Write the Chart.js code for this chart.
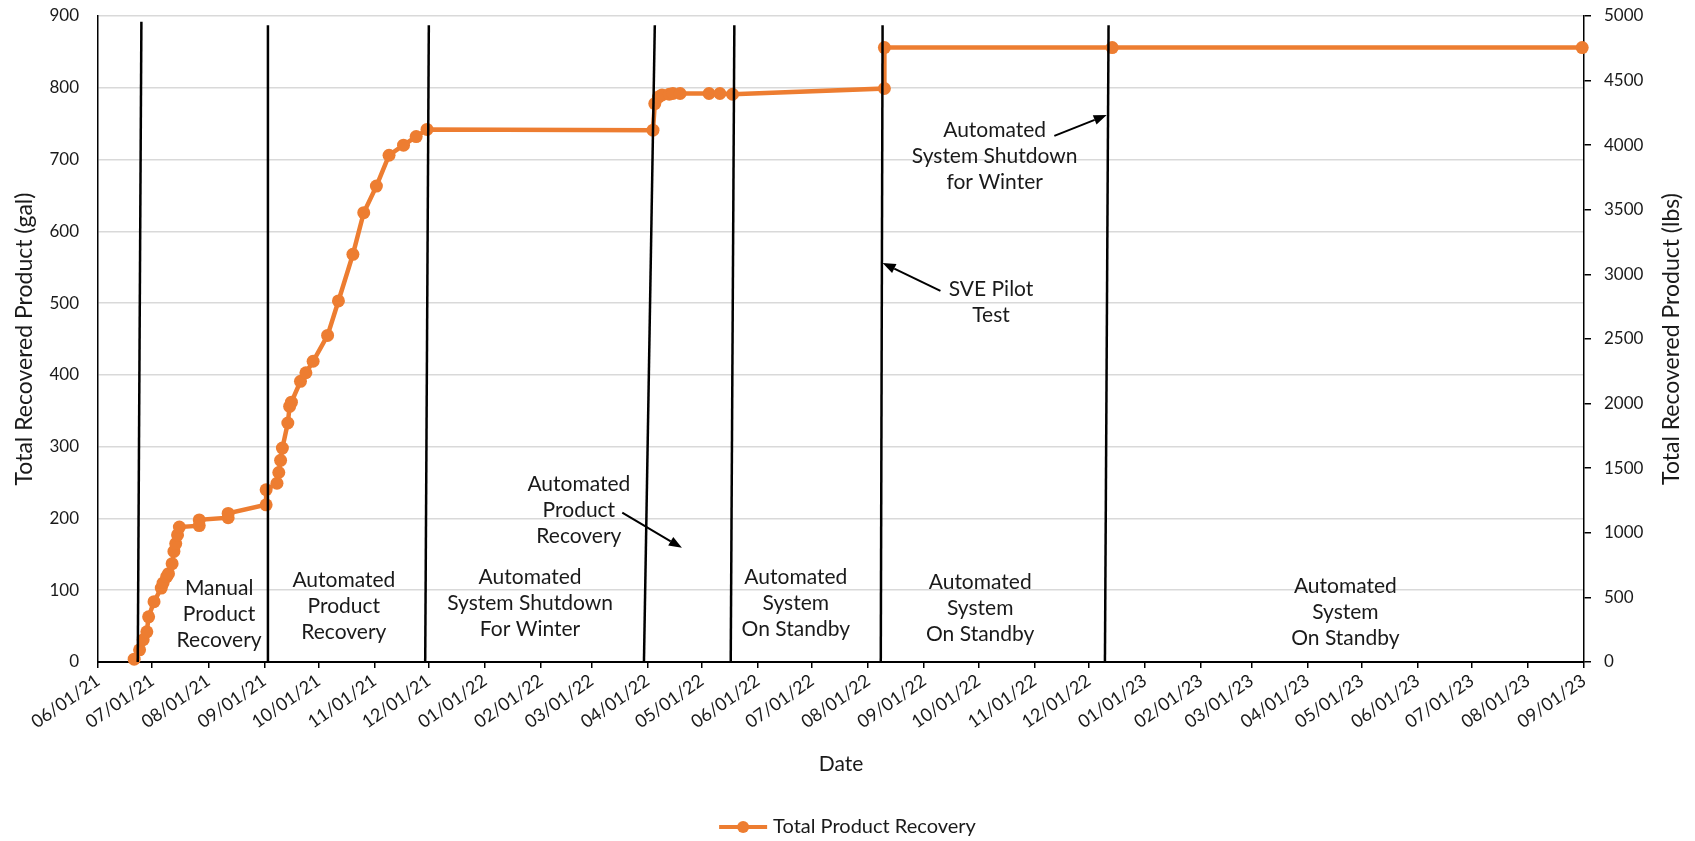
<!DOCTYPE html>
<html>
<head>
<meta charset="utf-8">
<script src="https://cdn.jsdelivr.net/npm/chart.js@4.4.1/dist/chart.umd.min.js"></script>
<style>
  html, body { margin: 0; padding: 0; background: #fff; }
  canvas { display: block; }
</style>
</head>
<body>
<canvas id="recoveryChart" width="1695" height="841"></canvas>
<script>
// sample dates and cumulative recovered product (gal)
const sampleDates = [
  '06/21/21', '06/24/21', '06/26/21', '06/28/21', '06/29/21', '07/02/21', '07/06/21', '07/07/21',
  '07/09/21', '07/10/21', '07/12/21', '07/13/21', '07/14/21', '07/15/21', '07/16/21', '07/27/21',
  '07/27/21', '08/12/21', '08/12/21', '09/02/21', '09/02/21', '09/08/21', '09/09/21', '09/10/21',
  '09/11/21', '09/14/21', '09/15/21', '09/16/21', '09/21/21', '09/24/21', '09/28/21', '10/06/21',
  '10/12/21', '10/20/21', '10/26/21', '11/02/21', '11/09/21', '11/17/21', '11/24/21', '11/30/21',
  '04/04/22', '04/05/22', '04/07/22', '04/09/22', '04/13/22', '04/15/22', '04/19/22', '05/05/22',
  '05/11/22', '05/18/22', '08/10/22', '08/10/22', '12/14/22', '08/31/23'
];
const totalGal = [
  4, 17, 31, 42, 63, 84, 103, 110,
  119, 123, 137, 154, 165, 177, 188, 190,
  198, 201, 207, 219, 240, 249, 264, 281,
  298, 333, 356, 362, 391, 403, 419, 455,
  503, 568, 626, 663, 706, 720, 732, 742,
  741, 778, 787, 790, 791, 792, 792, 792,
  792, 791, 799, 856, 856, 856
];

const monthTicks = [
  '06/01/21', '07/01/21', '08/01/21', '09/01/21', '10/01/21', '11/01/21', '12/01/21',
  '01/01/22', '02/01/22', '03/01/22', '04/01/22', '05/01/22', '06/01/22', '07/01/22',
  '08/01/22', '09/01/22', '10/01/22', '11/01/22', '12/01/22', '01/01/23', '02/01/23',
  '03/01/23', '04/01/23', '05/01/23', '06/01/23', '07/01/23', '08/01/23', '09/01/23'
];

// phase change markers (slightly slanted lines: bottom date -> top date)
const phaseBottomDates = ['06/23/21', '09/03/21', '11/29/21', '03/30/22', '05/17/22', '08/08/22', '12/10/22'];
const phaseTopDates    = ['06/25/21', '09/03/21', '12/01/21', '04/05/22', '05/19/22', '08/09/22', '12/12/22'];
const phaseTopGal      = [892, 887, 887, 887, 887, 887, 887];

// text notes, centred on a date / gal position
const noteLines = [
  ['Manual', 'Product', 'Recovery'],
  ['Automated', 'Product', 'Recovery'],
  ['Automated', 'System Shutdown', 'For Winter'],
  ['Automated', 'Product', 'Recovery'],
  ['Automated', 'System', 'On Standby'],
  ['Automated', 'System', 'On Standby'],
  ['Automated', 'System', 'On Standby'],
  ['Automated', 'System Shutdown', 'for Winter'],
  ['SVE Pilot', 'Test']
];
const noteDates = ['08/07/21', '10/15/21', '01/26/22', '02/22/22', '06/22/22', '10/02/22', '04/22/23', '10/10/22', '10/08/22'];
const noteGal   = [67, 77, 82, 212, 82, 75, 70, 705, 501];

const arrowFromDates = ['03/18/22', '11/12/22', '09/10/22'];
const arrowFromGal   = [208, 733, 517];
const arrowToDates   = ['04/20/22', '12/11/22', '08/09/22'];
const arrowToGal     = [159, 762, 556];

const ORANGE = '#ED7D31';
const TEXT = '#1a1a1a';

function toDay(s) {
  const [m, d, y] = s.split('/').map(Number);
  return (Date.UTC(2000 + y, m - 1, d) - Date.UTC(2021, 5, 1)) / 86400000;
}

const recoveryData = sampleDates.map((d, i) => ({ x: toDay(d), y: totalGal[i] }));

const phaseSets = phaseBottomDates.map((d, i) => ({
  label: 'phase' + i,
  data: [{ x: toDay(d), y: 0 }, { x: toDay(phaseTopDates[i]), y: phaseTopGal[i] }],
  showLine: true,
  borderColor: '#000',
  borderWidth: 2.5,
  pointRadius: 0,
  order: 0
}));

const notesPlugin = {
  id: 'notes',
  afterDatasetsDraw(chart) {
    const { ctx, scales: { x, y } } = chart;
    ctx.save();
    ctx.fillStyle = TEXT;
    ctx.font = '21px Lato';
    ctx.textAlign = 'center';
    ctx.textBaseline = 'middle';
    noteLines.forEach((lines, i) => {
      const cx = x.getPixelForValue(toDay(noteDates[i]));
      const cy = y.getPixelForValue(noteGal[i]);
      lines.forEach((t, j) => ctx.fillText(t, cx, cy + (j - (lines.length - 1) / 2) * 26));
    });

    ctx.strokeStyle = '#000';
    ctx.fillStyle = '#000';
    ctx.lineWidth = 2;
    arrowFromDates.forEach((d, i) => {
      const x0 = x.getPixelForValue(toDay(d)), y0 = y.getPixelForValue(arrowFromGal[i]);
      const x1 = x.getPixelForValue(toDay(arrowToDates[i])), y1 = y.getPixelForValue(arrowToGal[i]);
      const a = Math.atan2(y1 - y0, x1 - x0);
      const hl = 13, hw = 5;
      ctx.beginPath();
      ctx.moveTo(x0, y0);
      ctx.lineTo(x1 - Math.cos(a) * hl, y1 - Math.sin(a) * hl);
      ctx.stroke();
      ctx.beginPath();
      ctx.moveTo(x1, y1);
      ctx.lineTo(x1 - Math.cos(a) * hl - Math.sin(a) * hw, y1 - Math.sin(a) * hl + Math.cos(a) * hw);
      ctx.lineTo(x1 - Math.cos(a) * hl + Math.sin(a) * hw, y1 - Math.sin(a) * hl - Math.cos(a) * hw);
      ctx.closePath();
      ctx.fill();
    });
    ctx.restore();
  },
  afterDraw(chart) {
    const { ctx, chartArea } = chart;
    const y2 = chart.scales.y2;
    ctx.save();
    // right axis title, reading bottom to top like the left one
    ctx.fillStyle = TEXT;
    ctx.font = '23px Lato';
    ctx.textAlign = 'center';
    ctx.textBaseline = 'middle';
    ctx.translate(y2.right - 23, (chartArea.top + chartArea.bottom) / 2);
    ctx.rotate(-Math.PI / 2);
    ctx.fillText('Total Recovered Product (lbs)', 0, 0);
    ctx.restore();

    // legend
    const ds = chart.data.datasets[0];
    ctx.save();
    ctx.font = '20px Lato';
    const tw = ctx.measureText(ds.label).width;
    const total = 48 + 6 + tw;
    const lx = chart.width / 2 - total / 2;
    const ly = 827;
    ctx.strokeStyle = ORANGE;
    ctx.lineWidth = 4;
    ctx.beginPath();
    ctx.moveTo(lx, ly);
    ctx.lineTo(lx + 48, ly);
    ctx.stroke();
    ctx.fillStyle = ORANGE;
    ctx.beginPath();
    ctx.arc(lx + 24, ly, 6, 0, Math.PI * 2);
    ctx.fill();
    ctx.fillStyle = TEXT;
    ctx.textBaseline = 'middle';
    ctx.fillText(ds.label, lx + 54, ly);
    ctx.restore();
  }
};

Chart.defaults.font.family = 'Lato';
Chart.defaults.color = TEXT;

new Chart(document.getElementById('recoveryChart'), {
  type: 'scatter',
  data: {
    datasets: [
      {
        label: 'Total Product Recovery',
        data: recoveryData,
        showLine: true,
        borderColor: ORANGE,
        backgroundColor: ORANGE,
        borderWidth: 4.5,
        pointRadius: 6.5,
        pointBorderWidth: 0,
        clip: false,
        order: 1
      },
      ...phaseSets
    ]
  },
  plugins: [notesPlugin],
  options: {
    responsive: false,
    animation: false,
    events: [],
    layout: { autoPadding: false, padding: { top: 16, right: 0, bottom: 0, left: 0 } },
    plugins: {
      legend: { display: false },
      tooltip: { enabled: false }
    },
    scales: {
      x: {
        type: 'linear',
        min: 0,
        max: toDay(monthTicks[monthTicks.length - 1]),
        afterBuildTicks: s => { s.ticks = monthTicks.map(t => ({ value: toDay(t) })); },
        afterFit: s => { s.height = 179; },
        ticks: {
          callback: (v, i) => monthTicks[i],
          autoSkip: false,
          minRotation: 35,
          maxRotation: 35,
          padding: 2,
          font: { size: 18 }
        },
        grid: { drawOnChartArea: false, color: '#000', lineWidth: 1.5, tickLength: 6 },
        border: { color: '#000', width: 2 },
        title: { display: true, text: 'Date', font: { size: 21 }, padding: { top: 0, bottom: 64 } }
      },
      y: {
        position: 'left',
        min: 0,
        max: 900,
        afterFit: s => { s.width = 98; s.paddingTop = 0; s.paddingBottom = 0; },
        ticks: { stepSize: 100, padding: 19, font: { size: 17 }, callback: v => String(v) },
        grid: { color: '#d9d9d9', lineWidth: 1.5, drawTicks: false, tickLength: 0 },
        border: { color: '#000', width: 1.5 },
        title: { display: true, text: 'Total Recovered Product (gal)', font: { size: 23 }, padding: { top: 11, bottom: 0 } }
      },
      y2: {
        position: 'right',
        min: 0,
        max: 5000,
        afterFit: s => { s.width = 111; s.paddingTop = 0; s.paddingBottom = 0; },
        ticks: { stepSize: 500, padding: 13, font: { size: 17 }, callback: v => String(v) },
        grid: { drawOnChartArea: false, color: '#000', lineWidth: 1.5, tickLength: 7 },
        border: { color: '#000', width: 1.5 }
      }
    }
  }
});
</script>
</body>
</html>
